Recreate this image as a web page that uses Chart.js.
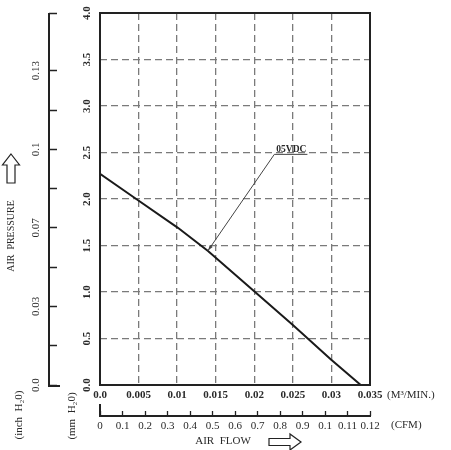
<!DOCTYPE html>
<html>
<head>
<meta charset="utf-8">
<script src="https://cdn.jsdelivr.net/npm/chart.js@4/dist/chart.umd.min.js"></script>
<style>
  html, body { margin: 0; padding: 0; background: #fff; }
  #wrap { width: 451px; height: 450px; }
</style>
</head>
<body>
<div id="wrap"><canvas id="fanChart" width="451" height="450"></canvas></div>
<script>
// P-Q curve (flow in m3/min, static pressure in mm H2O)
const flowM3 = [0, 0.0047, 0.0101, 0.014, 0.0201, 0.025, 0.0299, 0.0338];
const pressureMm = [2.27, 2.0, 1.69, 1.44, 1.0, 0.645, 0.276, 0];

const flowTickLabels = ['0.0', '0.005', '0.01', '0.015', '0.02', '0.025', '0.03', '0.035'];
const mmTickLabels = ['0.0', '0.5', '1.0', '1.5', '2.0', '2.5', '3.0', '3.5', '4.0'];
const inchTickLabels = ['0.0', '', '0.03', '', '0.07', '', '0.1', '', '0.13', ''];
const cfmTickLabels = ['0', '0.1', '0.2', '0.3', '0.4', '0.5', '0.6', '0.7', '0.8', '0.9', '0.1', '0.11', '0.12'];

const seriesName = '05VDC';
const calloutLabelAt = [0.0226, 2.48];
const calloutTipAt = [0.0140, 1.445];

const serif = '"Liberation Serif", "DejaVu Serif", serif';
const ink = '#222';
const textInk = '#2a2a2a';
const gridInk = '#7a7a7a';

function outlineArrow(ctx, pts) {
  ctx.beginPath();
  ctx.moveTo(pts[0][0], pts[0][1]);
  for (let i = 1; i < pts.length; i++) ctx.lineTo(pts[i][0], pts[i][1]);
  ctx.closePath();
  ctx.fillStyle = '#fff';
  ctx.fill();
  ctx.stroke();
}

function rotatedText(ctx, text, x, y) {
  ctx.save();
  ctx.translate(x, y);
  ctx.rotate(-Math.PI / 2);
  ctx.textAlign = 'center';
  ctx.textBaseline = 'middle';
  ctx.fillText(text, 0, 0);
  ctx.restore();
}

const decorations = {
  id: 'decorations',
  afterDraw(chart) {
    const { ctx, chartArea: a, scales } = chart;
    ctx.save();

    // plot frame
    ctx.strokeStyle = ink;
    ctx.lineWidth = 2;
    ctx.strokeRect(a.left, a.top, a.right - a.left, a.bottom - a.top);

    // inch axis spine, ticks sit on its right side
    const yi = scales.yInch;
    const sx = yi.right - yi.options.grid.tickLength;
    ctx.lineWidth = 2;
    ctx.beginPath();
    ctx.moveTo(sx, a.top);
    ctx.lineTo(sx, a.bottom + 1);
    ctx.lineTo(sx + 11, a.bottom + 1);
    ctx.stroke();

    // CFM axis spine, ticks stand on top of it
    const xc = scales.x2;
    const sy = xc.top + xc.options.grid.tickLength;
    ctx.beginPath();
    ctx.moveTo(a.left, sy - 12);
    ctx.lineTo(a.left, sy);
    ctx.lineTo(a.right + 1, sy);
    ctx.stroke();

    // axis titles
    ctx.fillStyle = textInk;
    ctx.font = '10px ' + serif;
    rotatedText(ctx, 'AIR  PRESSURE', 11, 236);
    ctx.font = '11px ' + serif;
    rotatedText(ctx, '(inch  H\u20820)', 19, 415);
    rotatedText(ctx, '(mm  H\u20820)', 72, 416);

    ctx.textAlign = 'left';
    ctx.textBaseline = 'middle';
    ctx.fillText('(M\u00b3/MIN.)', 387, 395);
    ctx.fillText('(CFM)', 391, 425);
    ctx.textAlign = 'center';
    ctx.fillText('AIR  FLOW', 223, 441);

    // hollow arrows
    ctx.strokeStyle = ink;
    ctx.lineWidth = 1.2;
    outlineArrow(ctx, [[11, 154], [19.5, 165], [15, 165], [15, 183], [7, 183], [7, 165], [2.5, 165]]);
    outlineArrow(ctx, [[301, 442], [290, 434], [290, 438.5], [269, 438.5], [269, 445.5], [290, 445.5], [290, 450]]);

    // series callout
    const lx = scales.x.getPixelForValue(calloutLabelAt[0]);
    const ly = scales.y.getPixelForValue(calloutLabelAt[1]);
    const tx = scales.x.getPixelForValue(calloutTipAt[0]);
    const ty = scales.y.getPixelForValue(calloutTipAt[1]);
    ctx.font = 'bold 9.5px ' + serif;
    ctx.textAlign = 'left';
    ctx.textBaseline = 'alphabetic';
    ctx.fillStyle = textInk;
    ctx.fillText(seriesName, lx + 2, ly - 2);
    const w = ctx.measureText(seriesName).width;
    ctx.lineWidth = 1;
    ctx.strokeStyle = '#444';
    ctx.beginPath();
    ctx.moveTo(lx + w + 3, ly);
    ctx.lineTo(lx, ly);
    ctx.lineTo(tx, ty);
    ctx.stroke();
    const ang = Math.atan2(ty - ly, tx - lx);
    ctx.beginPath();
    ctx.moveTo(tx, ty);
    ctx.lineTo(tx - 6 * Math.cos(ang - 0.3), ty - 6 * Math.sin(ang - 0.3));
    ctx.lineTo(tx - 6 * Math.cos(ang + 0.3), ty - 6 * Math.sin(ang + 0.3));
    ctx.closePath();
    ctx.fillStyle = '#444';
    ctx.fill();

    ctx.restore();
  }
};

new Chart(document.getElementById('fanChart'), {
  type: 'line',
  data: {
    datasets: [{
      label: seriesName,
      data: flowM3.map((x, i) => ({ x, y: pressureMm[i] })),
      borderColor: '#1a1a1a',
      borderWidth: 2,
      pointRadius: 0,
      tension: 0,
      xAxisID: 'x',
      yAxisID: 'y'
    }]
  },
  options: {
    responsive: false,
    animation: false,
    devicePixelRatio: 1,
    layout: { padding: { top: 13, right: 81, left: 0, bottom: 0 } },
    plugins: { legend: { display: false }, tooltip: { enabled: false } },
    scales: {
      x: {
        type: 'linear', position: 'bottom', min: 0, max: 0.035, weight: 0,
        border: { display: false, dash: [7, 4] },
        grid: { color: gridInk, lineWidth: 1.3, drawTicks: false },
        ticks: {
          stepSize: 0.005, autoSkip: false, maxRotation: 0, padding: 3.4, color: textInk,
          font: { family: serif, size: 11, weight: 'bold' },
          callback: (v, i) => flowTickLabels[i]
        },
        afterFit: s => { s.height = 26; }
      },
      x2: {
        type: 'linear', position: 'bottom', min: 0, max: 12, weight: 1,
        border: { display: false },
        grid: { drawOnChartArea: false, tickLength: 5, tickColor: ink, tickWidth: 1.3 },
        ticks: {
          stepSize: 1, autoSkip: false, maxRotation: 0, padding: 3.4, color: textInk,
          font: { family: serif, size: 11 },
          callback: (v, i) => cfmTickLabels[i]
        },
        afterFit: s => { s.height = 39; }
      },
      y: {
        type: 'linear', position: 'left', min: 0, max: 4, weight: 0,
        border: { display: false, dash: [7, 4] },
        grid: { color: gridInk, lineWidth: 1.3, drawTicks: false },
        ticks: {
          stepSize: 0.5, autoSkip: false, minRotation: 90, maxRotation: 90, crossAlign: 'center',
          padding: 6, color: textInk,
          font: { family: serif, size: 11, weight: 'bold' },
          callback: (v, i) => mmTickLabels[i]
        },
        afterFit: s => { s.width = 43; }
      },
      yInch: {
        type: 'linear', position: 'left', min: 0, max: 9.47, weight: 1,
        border: { display: false },
        grid: { drawOnChartArea: false, tickLength: 8, tickColor: ink, tickWidth: 1.5 },
        ticks: {
          stepSize: 1, autoSkip: false, minRotation: 90, maxRotation: 90, crossAlign: 'center',
          padding: 3, color: textInk,
          font: { family: serif, size: 11 },
          callback: (v, i) => inchTickLabels[i]
        },
        afterFit: s => { s.width = 57; }
      }
    }
  },
  plugins: [decorations]
});
</script>
</body>
</html>
